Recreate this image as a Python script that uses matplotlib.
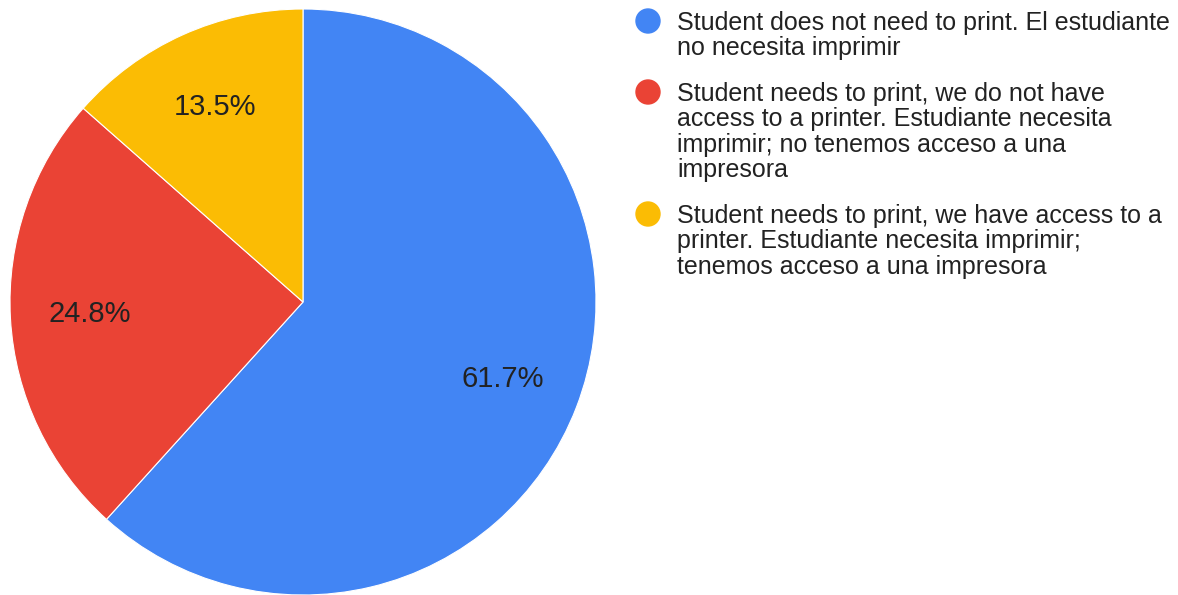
import matplotlib.pyplot as plt
from matplotlib.patches import Circle

plt.rcParams['font.family'] = ['Liberation Sans', 'DejaVu Sans']

# respuestas de la encuesta
labels = ['Student does not need to print. El estudiante\nno necesita imprimir',
          'Student needs to print, we do not have\naccess to a printer. Estudiante necesita\nimprimir; no tenemos acceso a una\nimpresora',
          'Student needs to print, we have access to a\nprinter. Estudiante necesita imprimir;\ntenemos acceso a una impresora']
shares = [61.7, 24.8, 13.5]
colors = ['#4285F4', '#EA4335', '#FBBC04']

W, H = 1178, 595
fig = plt.figure(figsize=(W / 100, H / 100), dpi=100)

# pie: centro ~ (303, 302) px, radio ~ 293 px
cx, cy, r = 303, 302, 293
ax = fig.add_axes([(cx - r) / W, (H - cy - r) / H, 2 * r / W, 2 * r / H])
ax.pie(shares, colors=colors, startangle=90, counterclock=False,
       autopct='%1.1f%%', pctdistance=0.73,
       wedgeprops=dict(edgecolor='white', linewidth=0.8),
       textprops=dict(fontsize=21, color='#222222'))
ax.set_xlim(-1, 1)
ax.set_ylim(-1, 1)
ax.set_aspect('auto')
ax.axis('off')

# leyenda a la derecha (coordenadas en pulgadas)
tops = [21, 92, 214]
for lab, col, y in zip(labels, colors, tops):
    fig.add_artist(Circle((6.48, (H - y) / 100), 0.12, color=col,
                          transform=fig.dpi_scale_trans))
    fig.text(677 / W, (H - y) / H + 10 / H, lab, fontsize=18, color='#222222',
             va='top', ha='left', linespacing=1.07)

fig.savefig('out.png', dpi=100)
